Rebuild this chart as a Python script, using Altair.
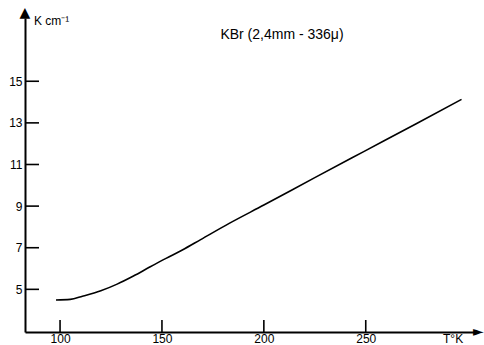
import altair as alt
import pandas as pd

# Curve values
temperature = [98, 105, 111, 120, 128, 136, 144, 152, 160, 169, 183, 200, 225, 249, 275, 297]
absorption = [4.49, 4.52, 4.67, 4.93, 5.25, 5.64, 6.07, 6.49, 6.89, 7.39, 8.17, 9.05, 10.37, 11.62, 12.97, 14.13]

x_ticks = [100, 150, 200, 250]
y_ticks = [5, 7, 9, 11, 13, 15]

title_text = "KBr  (2,4mm - 336\u03bc)"
y_label = "K cm\u207b\u00b9"
x_label = "T\u00b0K"

W, H = 451, 314
FONT = "Liberation Sans"

curve = pd.DataFrame({"T": temperature, "K": absorption})
xt = pd.DataFrame({"T": x_ticks})
yt = pd.DataFrame({"K": y_ticks})

xscale = alt.Scale(domain=[82.8, 304.1], nice=False, zero=False)
yscale = alt.Scale(domain=[2.95, 18.04], nice=False, zero=False)

x_axis = alt.Axis(values=x_ticks, ticks=False, grid=False, domainColor="black",
                  domainWidth=2, labelPadding=1, labelFontSize=12, labelFont=FONT,
                  labelColor="black", title=None, labelBaseline="top")
y_axis = alt.Axis(values=y_ticks, ticks=False, grid=False, domainColor="black",
                  domainWidth=2, labelPadding=3, labelFontSize=12, labelFont=FONT,
                  labelColor="black", title=None)

line = alt.Chart(curve).mark_line(color="black", strokeWidth=1.6, interpolate="monotone").encode(
    x=alt.X("T:Q", scale=xscale, axis=x_axis),
    y=alt.Y("K:Q", scale=yscale, axis=y_axis),
)

xtick_marks = alt.Chart(xt).mark_rule(color="black", strokeWidth=1.6).encode(
    x=alt.X("T:Q", scale=xscale),
    y=alt.value(H),
    y2=alt.value(H - 12),
)

ytick_marks = alt.Chart(yt).mark_rule(color="black", strokeWidth=1.6).encode(
    y=alt.Y("K:Q", scale=yscale),
    x=alt.value(0),
    x2=alt.value(14),
)

one = alt.Data(values=[{"a": 1}])

arrow_up = alt.Chart(one).mark_text(text="\u25b2", font="DejaVu Sans", fontSize=14,
                                    color="black", align="center", baseline="bottom").encode(
    x=alt.value(0), y=alt.value(2))
arrow_right = alt.Chart(one).mark_text(text="\u25ba", font="DejaVu Sans", fontSize=14,
                                       color="black", align="left", baseline="middle").encode(
    x=alt.value(W - 3), y=alt.value(H))

title_mark = alt.Chart(one).mark_text(text=title_text, font=FONT, fontSize=14,
                                      color="black", align="center", baseline="alphabetic").encode(
    x=alt.value(257), y=alt.value(21))
ylab_mark = alt.Chart(one).mark_text(text=y_label, font=FONT, fontSize=12,
                                     color="black", align="left", baseline="alphabetic").encode(
    x=alt.value(9), y=alt.value(7))
xlab_mark = alt.Chart(one).mark_text(text=x_label, font=FONT, fontSize=12,
                                     color="black", align="left", baseline="alphabetic").encode(
    x=alt.value(418), y=alt.value(325))

chart = alt.layer(line, xtick_marks, ytick_marks, arrow_up, arrow_right,
                  title_mark, ylab_mark, xlab_mark).properties(
    width=W, height=H,
    autosize=alt.AutoSizeParams(type="none"),
    padding={"left": 25, "top": 18, "right": 8, "bottom": 13},
    background="white",
).configure_view(stroke=None)

chart.save("out.html", embed_options={"renderer": "svg", "actions": False})
